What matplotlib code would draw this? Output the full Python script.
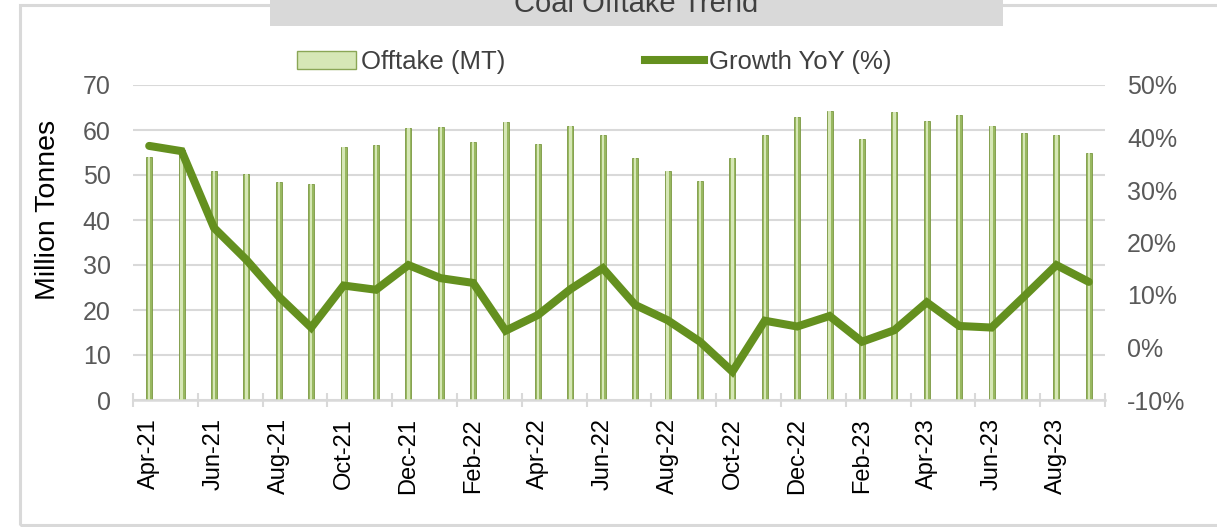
import numpy as np
import matplotlib
matplotlib.use("Agg")
import matplotlib.pyplot as plt
from matplotlib.patches import Rectangle
from matplotlib.lines import Line2D

plt.rcParams['font.family'] = ['Liberation Sans', 'DejaVu Sans']

# data
months = ['Apr-21', 'May-21', 'Jun-21', 'Jul-21', 'Aug-21', 'Sep-21', 'Oct-21', 'Nov-21',
          'Dec-21', 'Jan-22', 'Feb-22', 'Mar-22', 'Apr-22', 'May-22', 'Jun-22', 'Jul-22',
          'Aug-22', 'Sep-22', 'Oct-22', 'Nov-22', 'Dec-22', 'Jan-23', 'Feb-23', 'Mar-23',
          'Apr-23', 'May-23', 'Jun-23', 'Jul-23', 'Aug-23', 'Sep-23']
offtake = [54.0, 55.5, 51.0, 50.2, 48.4, 48.1, 56.3, 56.7, 60.4, 60.6, 57.3, 61.8,
           56.8, 60.9, 58.8, 53.8, 50.8, 48.7, 53.8, 58.8, 62.8, 64.2, 58.1, 63.9,
           62.1, 63.4, 60.9, 59.3, 59.0, 54.8]
growth = [38.4, 37.4, 22.8, 16.7, 9.7, 3.8, 11.8, 11.0, 15.7, 13.2, 12.3, 3.2,
          6.2, 11.1, 15.1, 8.1, 5.2, 1.1, -4.6, 5.1, 4.0, 6.0, 1.1, 3.3,
          8.6, 4.1, 3.8, 9.7, 15.7, 12.5]
left_ticks = [0, 10, 20, 30, 40, 50, 60, 70]
right_ticks = [-10, 0, 10, 20, 30, 40, 50]

bar_dark = '#98b860'
bar_light = '#d6e7b6'
line_col = '#64901f'
grid_col = '#d9d9d9'
txt_gray = '#595959'

W, H = 1217, 527
fig = plt.figure(figsize=(W / 100, H / 100), dpi=100)

# outer frame and title box
fig.patches.append(Rectangle((20 / W, 2.5 / H), 1.2, 1 - 7.5 / H, transform=fig.transFigure,
                             fill=False, edgecolor=grid_col, lw=2.2))
fig.patches.append(Rectangle((270 / W, 1 - 26 / H), 733 / W, 26 / H, transform=fig.transFigure,
                             facecolor=grid_col, edgecolor='none'))
fig.text(636 / W, 1 - 12 / H, 'Coal Offtake Trend', ha='center', va='baseline',
         fontsize=21, color='#404040')

ax = fig.add_axes([133 / W, 1 - 400 / H, 972 / W, 315 / H])
x = np.arange(len(months))
ax.bar(x, offtake, width=0.19, color=bar_dark, edgecolor='#7a9842', linewidth=0.6, zorder=2)
ax.bar(x, offtake, width=0.07, color=bar_light, edgecolor='none', zorder=3)
ax.set_xlim(-0.5, len(months) - 0.5)
ax.set_ylim(0, 70)
ax.set_yticks(left_ticks)
ax.grid(axis='y', color=grid_col, lw=1.5, zorder=0)
ax.set_axisbelow(True)
for s in ['top', 'left', 'right']:
    ax.spines[s].set_visible(False)
ax.spines['bottom'].set_color(grid_col)
ax.spines['bottom'].set_linewidth(1.8)
ax.tick_params(axis='y', length=0, pad=16, labelsize=18, labelcolor=txt_gray)
ax.set_xticks(x[::2])
ax.set_xticklabels(months[::2], rotation=90)
ax.set_xticks(np.arange(-0.5, len(months), 2), minor=True)
ax.tick_params(axis='x', which='major', length=0, pad=13, labelsize=17, labelcolor='black')
ax.tick_params(axis='x', which='minor', direction='inout', length=10, width=1.5, color=grid_col)
fig.text(48 / W, 1 - 210 / H, 'Million Tonnes', rotation=90, ha='center', va='center',
         fontsize=20.5, color='black')

ax2 = ax.twinx()
ax2.plot(x, growth, color=line_col, lw=5.8, solid_capstyle='round', solid_joinstyle='miter', zorder=4)
ax2.set_ylim(-10, 50)
ax2.set_yticks(right_ticks)
ax2.set_yticklabels([f'{v}%' for v in right_ticks])
for s in ['top', 'left', 'right', 'bottom']:
    ax2.spines[s].set_visible(False)
ax2.tick_params(axis='y', length=0, pad=16, labelsize=18, labelcolor=txt_gray)

# legend
h1 = Rectangle((0, 0), 1, 1, facecolor=bar_light, edgecolor='#8aa656', lw=1)
h2 = Line2D([0], [0], color=line_col, lw=5.8)
kw = dict(frameon=False, fontsize=18.5, handlelength=2.3, handletextpad=0.2,
          borderpad=0, borderaxespad=0, labelcolor='#404040')
fig.legend([h1], ['Offtake (MT)'], loc='center left', bbox_to_anchor=(297 / W, 1 - 62 / H), **kw)
fig.legend([h2], ['Growth YoY (%)'], loc='center left', bbox_to_anchor=(645 / W, 1 - 62 / H), **kw)

fig.savefig('out.png', dpi=100)
